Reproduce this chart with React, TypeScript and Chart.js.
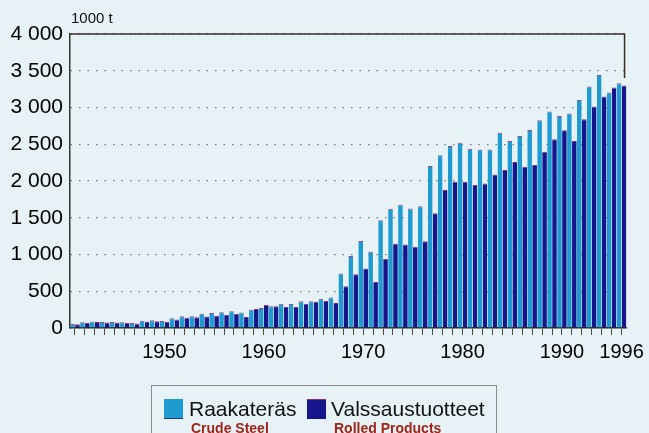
import React, { useEffect, useRef } from "react";
import { Chart, registerables } from "chart.js";

Chart.register(...registerables);

const years: string[] = [
  "1941", "1942", "1943", "1944", "1945", "1946", "1947", "1948", "1949", "1950",
  "1951", "1952", "1953", "1954", "1955", "1956", "1957", "1958", "1959", "1960",
  "1961", "1962", "1963", "1964", "1965", "1966", "1967", "1968", "1969", "1970",
  "1971", "1972", "1973", "1974", "1975", "1976", "1977", "1978", "1979", "1980",
  "1981", "1982", "1983", "1984", "1985", "1986", "1987", "1988", "1989", "1990",
  "1991", "1992", "1993", "1994", "1995", "1996",
];

// Raakateräs / Crude Steel (1000 t)
const crudeSteel: number[] = [
  55, 77, 90, 82, 82, 77, 68, 100, 104, 95,
  131, 159, 159, 195, 204, 213, 227, 210, 250, 272,
  295, 331, 325, 365, 363, 397, 415, 740, 980, 1185,
  1036, 1467, 1622, 1676, 1626, 1658, 2203, 2349, 2476, 2522,
  2440, 2430, 2430, 2658, 2544, 2612, 2694, 2826, 2944, 2885,
  2917, 3103, 3285, 3443, 3203, 3330,
];

// Valssaustuotteet / Rolled Products (1000 t)
const rolledProducts: number[] = [
  50, 70, 80, 75, 75, 70, 62, 88, 92, 85,
  115, 140, 145, 158, 168, 181, 195, 150, 259, 318,
  295, 286, 286, 331, 358, 368, 340, 568, 732, 808,
  627, 942, 1145, 1135, 1104, 1181, 1562, 1876, 1990, 1990,
  1944, 1967, 2090, 2148, 2257, 2194, 2216, 2399, 2567, 2689,
  2544, 2839, 3012, 3149, 3271, 3300,
];

const labeledYears: string[] = ["1950", "1960", "1970", "1980", "1990", "1996"];
const unitLabel = "1000 t";

const seriesFi: string[] = ["Raakateräs", "Valssaustuotteet"];
const seriesEn: string[] = ["Crude Steel", "Rolled Products"];

const LIGHT = "#1f9bd2";
const DARK = "#16168c";
const BG = "#e6f2f5";
const FONT = "'Liberation Sans', Arial, Helvetica, sans-serif";

function fmt(v: number): string {
  if (v >= 1000) {
    const th = Math.floor(v / 1000);
    const rest = String(v % 1000).padStart(3, "0");
    return th + " " + rest;
  }
  return String(v);
}

const framePlugin = {
  id: "frame",
  afterDraw(chart: any) {
    const { ctx, chartArea } = chart;
    const y = chart.scales.y;
    ctx.save();
    ctx.strokeStyle = "#3a2a2a";
    ctx.lineWidth = 1.5;
    ctx.beginPath();
    ctx.moveTo(chartArea.left, chartArea.top);
    ctx.lineTo(chartArea.right - 2, chartArea.top);
    ctx.lineTo(chartArea.right - 2, y.getPixelForValue(3400));
    ctx.stroke();
    ctx.fillStyle = "#111";
    ctx.font = "15px " + FONT;
    ctx.textBaseline = "alphabetic";
    ctx.fillText(unitLabel, chartArea.left + 1, 23);
    ctx.restore();
  },
};

export default function App() {
  const ref = useRef<HTMLCanvasElement | null>(null);

  useEffect(() => {
    if (!ref.current) return;
    const chart = new Chart(ref.current, {
      type: "bar",
      data: {
        labels: years,
        datasets: [
          {
            label: seriesFi[0],
            data: crudeSteel,
            backgroundColor: LIGHT,
            borderColor: "#9a4a86",
            borderWidth: { top: 1, left: 0, right: 0, bottom: 0 },
            categoryPercentage: 1.0,
            barPercentage: 0.94,
          },
          {
            label: seriesFi[1],
            data: rolledProducts,
            backgroundColor: DARK,
            borderColor: "#8a2a7a",
            borderWidth: { top: 1, left: 0, right: 0, bottom: 0 },
            categoryPercentage: 1.0,
            barPercentage: 0.94,
          },
        ],
      },
      options: {
        responsive: false,
        animation: false,
        layout: { padding: { left: 0, right: 19, top: 34, bottom: 65 } },
        plugins: {
          legend: { display: false },
          tooltip: { enabled: false },
          title: { display: false },
        },
        scales: {
          x: {
            type: "category",
            offset: true,
            grid: {
              display: true,
              drawOnChartArea: false,
              drawTicks: true,
              tickLength: 7,
              offset: false,
              color: "#4a4a3a",
              lineWidth: 1,
            },
            border: { display: true, color: "#2a2a2a", width: 1.5 },
            ticks: {
              autoSkip: false,
              maxRotation: 0,
              minRotation: 0,
              padding: 5,
              color: "#000",
              font: { size: 20, family: FONT },
              callback: function (this: any, _v: any, i: number) {
                const lab = years[i];
                return labeledYears.includes(lab) ? lab : "";
              },
            },
            afterFit: (s: any) => {
              s.height = 40;
            },
          },
          y: {
            min: 0,
            max: 4000,
            grid: {
              display: true,
              drawTicks: false,
              tickLength: 0,
              color: "#7a7a7a",
              lineWidth: 1.2,
            },
            border: { display: true, color: "#2a3a2a", width: 1.5, dash: [1.5, 7] },
            ticks: {
              stepSize: 500,
              padding: 7,
              color: "#000",
              font: { size: 21, family: FONT },
              callback: (v: any) => fmt(Number(v)),
            },
            afterFit: (s: any) => {
              s.width = 70;
            },
          },
        },
      },
      plugins: [framePlugin],
    });
    return () => chart.destroy();
  }, []);

  const text: React.CSSProperties = {
    position: "absolute",
    fontFamily: FONT,
    whiteSpace: "nowrap",
  };

  return (
    <div
      style={{
        position: "fixed",
        left: 0,
        top: 0,
        width: 649,
        height: 433,
        background: BG,
        overflow: "hidden",
      }}
    >
      <canvas ref={ref} width={649} height={433} style={{ position: "absolute", left: 0, top: 0 }} />
      <div
        style={{
          position: "absolute",
          left: 151,
          top: 385,
          width: 346,
          height: 70,
          border: "1px solid #8c8c8c",
          boxSizing: "border-box",
        }}
      >
        <div style={{ position: "absolute", left: 12, top: 13, width: 19, height: 19, background: LIGHT, borderBottom: "1px solid #1a3a6a" }} />
        <div style={{ ...text, left: 37, top: 11, fontSize: 21, lineHeight: "24px", color: "#111" }}>{seriesFi[0]}</div>
        <div style={{ ...text, left: 39, top: 34, fontSize: 14, fontWeight: "bold", lineHeight: "16px", color: "#a02418" }}>{seriesEn[0]}</div>
        <div style={{ position: "absolute", left: 155, top: 13, width: 19, height: 19, background: DARK, borderTop: "1px solid #8a2a7a" }} />
        <div style={{ ...text, left: 179, top: 11, fontSize: 21, lineHeight: "24px", color: "#111" }}>{seriesFi[1]}</div>
        <div style={{ ...text, left: 182, top: 34, fontSize: 14, fontWeight: "bold", lineHeight: "16px", color: "#a02418" }}>{seriesEn[1]}</div>
      </div>
    </div>
  );
}
